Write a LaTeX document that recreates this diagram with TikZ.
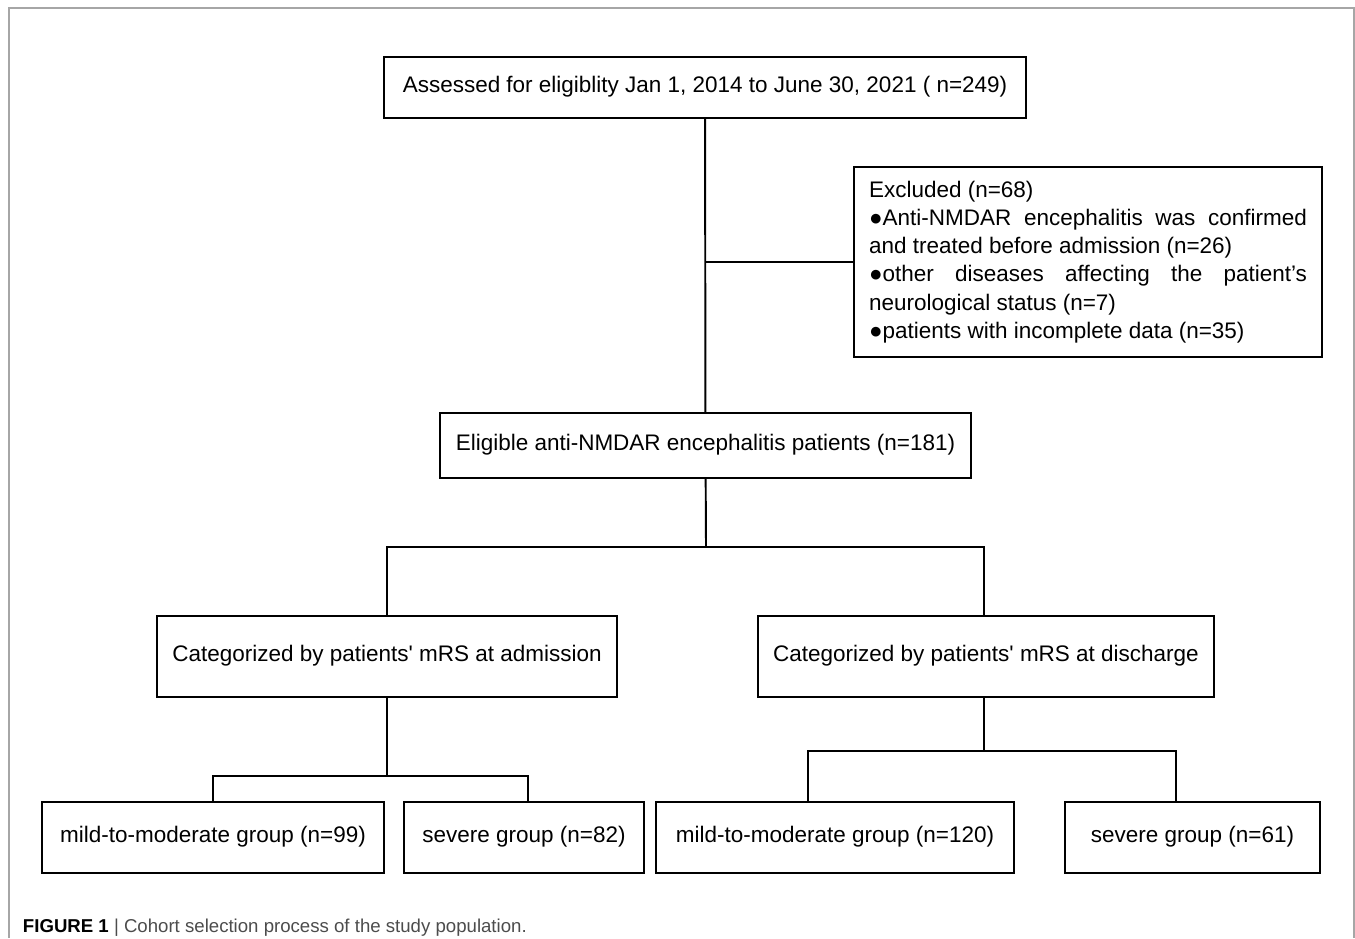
\documentclass[tikz,border=0pt]{standalone}
\usepackage{fontspec}
\setmainfont{Liberation Sans}
\usepackage{tikz}
\usetikzlibrary{positioning,calc}
\tikzset{flow/.style={x=0.02cm,y=-0.02cm,line width=1.1pt,font=\fontsize{12.8}{16.1}\selectfont},
    stage/.style={rectangle,draw,line width=1.2pt,inner sep=0pt,align=center,text depth=0.12cm},
    group/.style={stage,minimum height=1.42cm},
    category/.style={stage,minimum height=1.62cm},
    note/.style={stage,minimum width=9.36cm,minimum height=3.8cm,text width=8.76cm,align=justify,inner xsep=0.3cm,text depth=},
    frame/.style={draw=black!35,line width=0.6pt}}

\begin{document}
\begin{tikzpicture}[flow]
    \useasboundingbox (0,0) rectangle (1355,938);
    \draw[frame] (9,938) -- (9,8) -- (1354,8) -- (1354,938);

    \node[stage,minimum width=12.84cm,minimum height=1.22cm](assess) at (705,87.5)
        {Assessed for eligiblity Jan 1, 2014 to June 30, 2021 ( n=249)};
    \node[note](excl) at (1088,262)
        {Excluded (n=68)\\
        ●Anti-NMDAR encephalitis was confirmed and treated before admission (n=26)\\
        ●other diseases affecting the patient’s\linebreak neurological status (n=7)\\
        ●patients with incomplete data (n=35)};
    \node[stage,minimum width=10.62cm,minimum height=1.3cm](elig) at (705.5,445.5)
        {Eligible anti-NMDAR encephalitis patients (n=181)};

    \node[category,minimum width=9.2cm](catadm) at (387,656.5)
        {Categorized by patients\textquotesingle{} mRS at admission};
    \node[category,minimum width=9.12cm](catdis) at (986,656.5)
        {Categorized by patients\textquotesingle{} mRS at discharge};

    \node[group,minimum width=6.84cm](admmild) at (213,837.5) {mild-to-moderate group (n=99)};
    \node[group,minimum width=4.8cm](admsev) at (524,837.5) {severe group (n=82)};
    \node[group,minimum width=7.16cm](dismild) at (835,837.5) {mild-to-moderate group (n=120)};
    \node[group,minimum width=5.1cm](dissev) at (1192.5,837.5) {severe group (n=61)};

    \coordinate (split) at (706,547);
    \coordinate (admsplit) at (387,776);
    \coordinate (dissplit) at (984,751);

    \draw (assess) -- (elig);
    \draw (excl.west) -- (excl.west -| assess.south);
    \draw (elig) -- (split);
    \draw (catadm.north) |- (split) -| ([xshift=-0.04cm]catdis.north);
    \draw (catadm) -- (admsplit);
    \draw (admmild.north) |- (admsplit) -| ([xshift=0.08cm]admsev.north);
    \draw ([xshift=-0.04cm]catdis.south) -- (dissplit);
    \draw ([xshift=-0.54cm]dismild.north) |- (dissplit) -| ([xshift=-0.33cm]dissev.north);

    \node[anchor=base west,font=\fontsize{10.6}{12}\selectfont,inner sep=0pt](caption) at (22,932)
        {\textbf{FIGURE 1}\ \textcolor{black!70}{|\ Cohort selection process of the study population.}};
\end{tikzpicture}
\end{document}
